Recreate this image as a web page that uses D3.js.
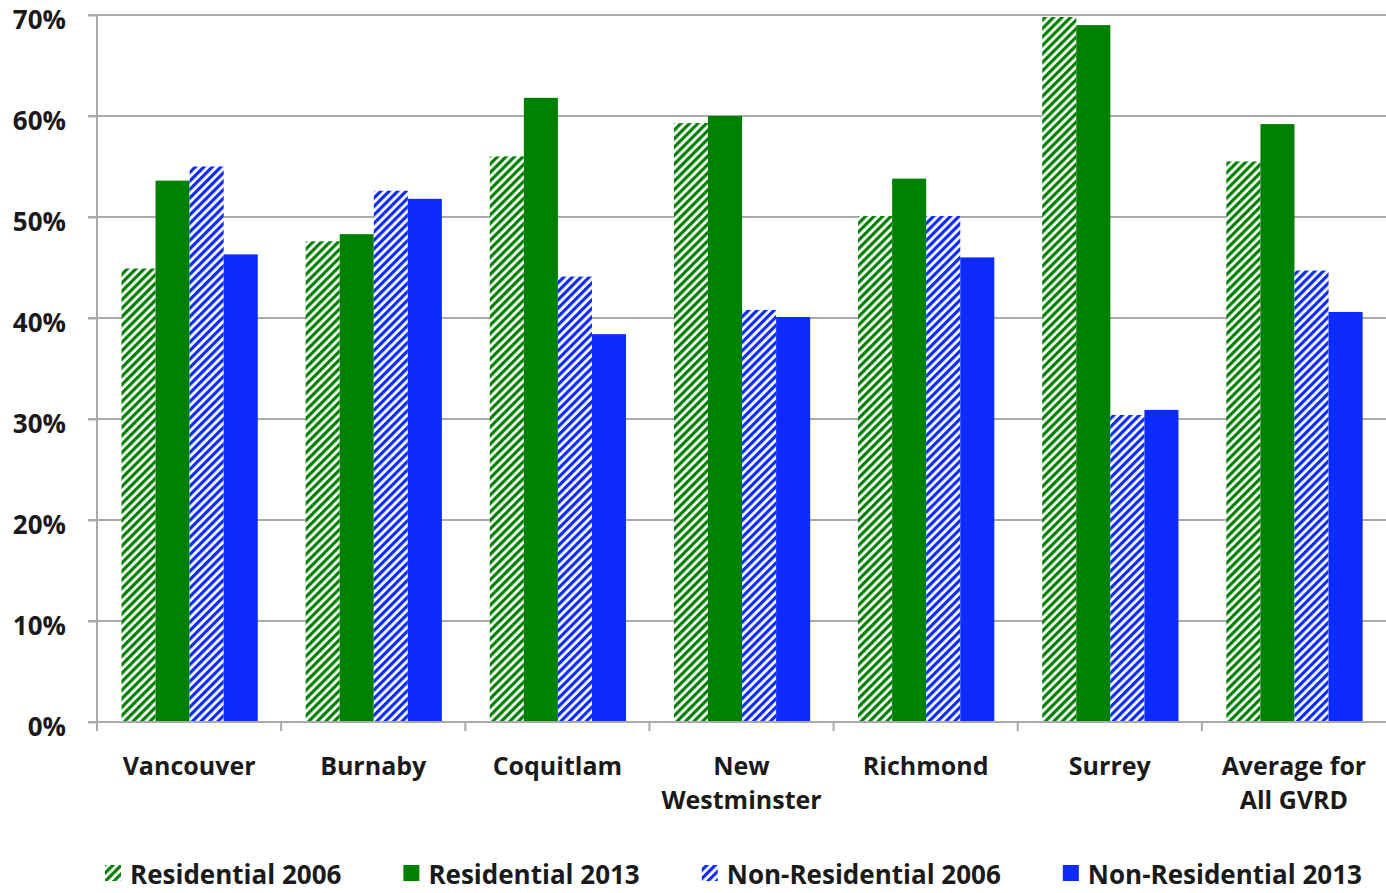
<!DOCTYPE html>
<html><head><meta charset="utf-8">
<script src="https://cdn.jsdelivr.net/npm/d3@7"></script>
<style>
html,body{margin:0;padding:0;background:#fff;}
svg{display:block;}
text{font-family:"Open Sans",sans-serif;font-weight:700;fill:#1a1a1a;}
</style></head>
<body>
<svg id="chart" width="1386" height="893"></svg>
<script>
const categories = [["Vancouver"],["Burnaby"],["Coquitlam"],["New","Westminster"],["Richmond"],["Surrey"],["Average for","All GVRD"]];
const seriesNames = ["Residential 2006","Residential 2013","Non-Residential 2006","Non-Residential 2013"];
const residential2006 = [44.9, 47.6, 56.0, 59.3, 50.1, 69.8, 55.5];
const residential2013 = [53.6, 48.3, 61.8, 60.0, 53.8, 69.0, 59.2];
const nonResidential2006 = [55.0, 52.6, 44.1, 40.8, 50.1, 30.4, 44.7];
const nonResidential2013 = [46.3, 51.8, 38.4, 40.1, 46.0, 30.9, 40.6];
const yTicks = [0,10,20,30,40,50,60,70];

(function(){
const seriesValues = [residential2006, residential2013, nonResidential2006, nonResidential2013];
const seriesColors = ["#008000","#008000","#0d2bff","#0d2bff"];
const seriesHatched = [true,false,true,false];

const svg = d3.select("#chart");
const defs = svg.append("defs");
["#008000","#0d2bff"].forEach((c,i)=>{
  const p = defs.append("pattern").attr("id","hatch"+i).attr("patternUnits","userSpaceOnUse")
    .attr("width",6).attr("height",6).attr("patternTransform","rotate(45)");
  p.append("rect").attr("width",6).attr("height",6).attr("fill","#fff");
  p.append("rect").attr("width",3.2).attr("height",6).attr("fill",c);
});
const fillFor = i => seriesHatched[i] ? `url(#hatch${seriesColors[i]==="#008000"?0:1})` : seriesColors[i];

const mLeft = 97, mRight = 1386, mTop = 15, mBottom = 722;
const catKeys = categories.map(c=>c.join(" "));
const x = d3.scaleBand().domain(catKeys).range([mLeft,mRight]).paddingInner(0).paddingOuter(0);
const bw = x.bandwidth();
const xs = d3.scaleBand().domain(d3.range(4)).range([bw*0.133, bw*0.873]).padding(0);
const y = d3.scaleLinear().domain([0,70]).range([mBottom,mTop]);

// gridlines
svg.append("g").selectAll("line").data(yTicks.filter(t=>t>0)).join("line")
  .attr("x1",mLeft-9).attr("x2",mRight).attr("y1",d=>y(d)).attr("y2",d=>y(d))
  .attr("stroke","#aaaaaa").attr("stroke-width",2);

// y axis
const yAxis = d3.axisLeft(y).tickValues(yTicks).tickSize(9).tickFormat(d=>d+"%");
const ya = svg.append("g").attr("transform",`translate(${mLeft},0)`).call(yAxis);
ya.select(".domain").attr("stroke","#aaaaaa").attr("stroke-width",2).attr("d",`M0,${mTop}V${mBottom}`);
ya.selectAll(".tick line").attr("stroke","#aaaaaa").attr("stroke-width",2);
ya.selectAll(".tick text").attr("x",-31).attr("dy","0.52em").attr("font-size",26).attr("font-family","Open Sans").attr("font-weight",700).attr("fill","#1a1a1a");

// bars
const groups = svg.append("g").selectAll("g").data(catKeys).join("g")
  .attr("transform",d=>`translate(${x(d)},0)`);
groups.selectAll("rect").data((d,ci)=>seriesValues.map((s,si)=>({si,v:s[ci]}))).join("rect")
  .attr("x",d=>xs(d.si)).attr("width",xs.bandwidth())
  .attr("y",d=>y(d.v)).attr("height",d=>y(0)-y(d.v))
  .attr("fill",d=>fillFor(d.si));

// x axis
const xAxis = d3.axisBottom(x).tickSize(0).tickFormat("");
const xa = svg.append("g").attr("transform",`translate(0,${mBottom})`).call(xAxis);
xa.select(".domain").attr("stroke","#aaaaaa").attr("stroke-width",2).attr("d",`M${mLeft-9},0H${mRight}`);
xa.selectAll("line.sep").data(catKeys.map(k=>x(k))).join("line").attr("class","sep")
  .attr("x1",d=>d).attr("x2",d=>d).attr("y1",0).attr("y2",9)
  .attr("stroke","#aaaaaa").attr("stroke-width",2);

// category labels
svg.append("g").selectAll("text").data(categories).join("text")
  .attr("x",(d,i)=>x(catKeys[i])+bw/2).attr("y",775)
  .attr("text-anchor","middle").attr("font-size",25)
  .selectAll("tspan").data(d=>d).join("tspan")
  .attr("x",function(){return this.parentNode.getAttribute("x");})
  .attr("dy",(d,i)=>i===0?0:34).text(d=>d);

// legend
const lg = svg.append("g");
let lx = 105;
seriesNames.forEach((name,i)=>{
  lg.append("rect").attr("x",lx).attr("y",865).attr("width",16).attr("height",16).attr("fill",fillFor(i));
  const t = lg.append("text").attr("x",lx+25).attr("y",884).attr("font-size",26).text(name);
  const w = t.node().getComputedTextLength();
  lx = lx + 25 + w + 62;
});
})();
</script>
</body></html>
